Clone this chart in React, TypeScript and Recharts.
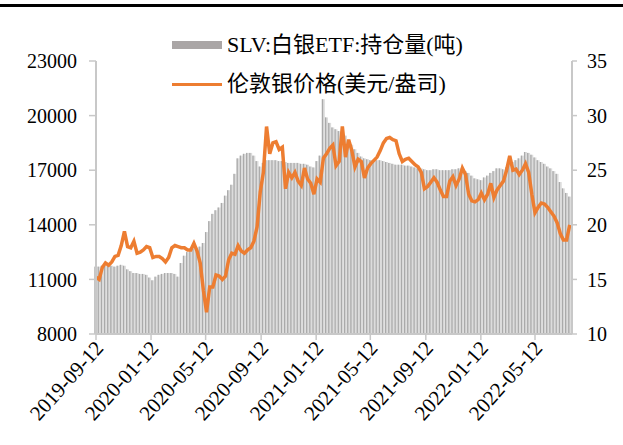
import React from 'react';
import { ComposedChart, Bar, Line, XAxis, YAxis, Legend } from 'recharts';

const FONT = "'Liberation Serif', 'Times New Roman', 'Noto Sans CJK SC', serif";

const startDate = '2019-09-12';
const tickLabels = ['2019-09-12', '2020-01-12', '2020-05-12', '2020-09-12', '2021-01-12', '2021-05-12', '2021-09-12', '2022-01-12', '2022-05-12'];
const holdingTicks = [8000, 11000, 14000, 17000, 20000, 23000];
const priceTicks = [10, 15, 20, 25, 30, 35];
const holdingName = 'SLV:白银ETF:持仓量(吨)';
const priceName = '伦敦银价格(美元/盎司)';

// weekly readings
const price = [
  15.2, 15.0, 16.1, 16.5, 16.3, 16.6, 17.1, 17.2, 18.1, 19.4,
  18.0, 17.9, 18.5, 17.4, 17.5, 17.7, 18.0, 17.9, 17.0, 17.1,
  17.1, 16.9, 16.6, 17.0, 17.9, 18.1, 18.0, 17.9, 17.9, 17.7,
  17.7, 18.3, 17.6, 16.5, 14.0, 12.0, 14.3, 14.3, 15.4, 15.3,
  15.0, 15.3, 16.8, 17.4, 17.3, 18.1, 17.6, 17.4, 17.7, 17.9,
  18.5, 19.8, 23.0, 24.8, 29.0, 26.5, 27.5, 27.6, 26.9, 27.1,
  23.3, 24.8, 24.3, 24.8, 24.0, 23.6, 25.2, 24.2, 23.8, 22.8,
  24.2, 23.9, 26.1, 26.5, 27.0, 27.3, 25.4, 25.8, 29.0, 26.2,
  27.8, 26.8, 25.3, 26.0, 25.8, 24.3, 25.2, 25.6, 25.9, 26.2,
  26.8, 27.5, 27.9, 28.0, 27.8, 27.7, 26.5, 25.8, 26.0, 26.1,
  25.8, 25.5, 25.3, 24.8, 23.3, 23.5, 23.9, 24.3, 23.9, 23.2,
  22.6, 22.6, 24.0, 24.4, 23.6, 24.2, 25.2, 24.6, 22.8, 22.2,
  22.1, 22.3, 22.9, 22.3, 22.8, 23.8, 22.5, 23.2, 23.6, 24.0,
  25.0, 26.3, 25.0, 25.1, 24.6, 25.0, 25.6, 24.8, 22.8, 21.1,
  21.6, 22.0, 21.9, 21.6, 21.2, 20.8, 20.2, 19.2, 18.6, 18.6,
  20.0,
];

const holdings = [
  11700, 11700, 11750, 11750, 11750, 11750, 11700, 11750, 11800, 11750,
  11550, 11450, 11350, 11350, 11300, 11300, 11250, 11100, 10950, 11150,
  11250, 11300, 11350, 11350, 11350, 11300, 11150, 11900, 12300, 12500,
  12650, 12700, 12750, 12800, 13000, 13600, 14200, 14600, 14800, 14950,
  15200, 15600, 15900, 16200, 16800, 17650, 17800, 17900, 17950, 17950,
  17800, 17500, 17200, 17400, 17550, 17550, 17550, 17550, 17500, 17500,
  17450, 17400, 17400, 17400, 17400, 17350, 17350, 17300, 17200, 17150,
  17500, 17800, 20900, 19900, 19600, 19350, 19250, 19150, 19050, 18900,
  18650, 18400, 18150, 17950, 17750, 17650, 17600, 17550, 17550, 17550,
  17550, 17500, 17450, 17400, 17350, 17300, 17300, 17300, 17250, 17250,
  17200, 17150, 17100, 17100, 17050, 17000, 17000, 17050, 17050, 17000,
  17000, 17000, 17000, 17050, 17050, 17100, 17100, 16950, 16850, 16700,
  16550, 16500, 16450, 16600, 16700, 16850, 16950, 17100, 17100, 17050,
  17150, 17350, 17450, 17550, 17650, 17800, 18000, 17950, 17850, 17700,
  17550, 17450, 17350, 17200, 17100, 16950, 16800, 16350, 16000, 15750,
  15550,
];

const DAY = 86400000;
const parse = (s: string) => {
  const [y, m, d] = s.split('-').map(Number);
  return Date.UTC(y, m - 1, d);
};
const t0 = parse(startDate);
const toDay = (s: string) => Math.round((parse(s) - t0) / DAY);
const tickDays = tickLabels.map(toDay);
const labelOf = (d: number) => {
  const i = tickDays.indexOf(d);
  return i >= 0 ? tickLabels[i] : '';
};

const data = price.map((p, i) => ({ day: i * 7, price: p, holdings: holdings[i] }));

const BarShape = (props: any) => {
  const { x, y, width, height } = props;
  if (!height || height <= 0) return null;
  return (
    <g>
      <rect x={x} y={y} width={width} height={height} fill="#dcdcdc" />
      <rect x={x} y={y} width={Math.min(1.3, width)} height={height} fill="#aaaaaa" />
    </g>
  );
};

const XTick = (props: any) => {
  const { x, y, payload } = props;
  const ax = x + 3;
  const ay = y + 2;
  return (
    <text
      x={ax}
      y={ay}
      dy="0.35em"
      transform={`rotate(-48 ${ax} ${ay})`}
      textAnchor="end"
      fontSize={21}
      fontFamily={FONT}
      fill="#000"
    >
      {labelOf(payload.value)}
    </text>
  );
};

const LegendContent = () => (
  <div style={{ fontFamily: FONT, fontSize: 22, color: '#000', lineHeight: '22px' }}>
    <div style={{ display: 'flex', alignItems: 'center', height: 24 }}>
      <div style={{ width: 50, height: 8, background: '#aaa6a6', marginRight: 5 }} />
      <span style={{ whiteSpace: 'nowrap' }}>{holdingName}</span>
    </div>
    <div style={{ display: 'flex', alignItems: 'center', height: 24, marginTop: 15 }}>
      <div style={{ width: 50, height: 3, background: '#ED7D31', marginRight: 5 }} />
      <span style={{ whiteSpace: 'nowrap' }}>{priceName}</span>
    </div>
  </div>
);

export default function App() {
  return (
    <div style={{ position: 'absolute', left: 0, top: 0, width: 623, height: 445, background: '#fff' }}>
      <div style={{ position: 'absolute', left: 0, top: 4, width: 623, height: 3, background: '#000' }} />
      <ComposedChart
        width={623}
        height={445}
        data={data}
        margin={{ top: 61, right: 0, bottom: 11, left: 0 }}
      >
        <XAxis
          dataKey="day"
          type="number"
          domain={[0, 1055]}
          ticks={tickDays}
          interval={0}
          tick={<XTick />}
          tickSize={6}
          tickMargin={2}
          height={100}
          axisLine={{ stroke: '#c8c8c8', strokeWidth: 2 }}
          tickLine={{ stroke: '#c8c8c8', strokeWidth: 1.5 }}
        />
        <YAxis
          yAxisId="left"
          orientation="left"
          domain={[8000, 23000]}
          ticks={holdingTicks}
          interval={0}
          width={96}
          tickSize={7}
          tickMargin={12}
          axisLine={{ stroke: '#c8c8c8', strokeWidth: 2 }}
          tickLine={{ stroke: '#c8c8c8', strokeWidth: 1.5 }}
          tick={{ fontSize: 20, fontFamily: FONT, fill: '#000' }}
        />
        <YAxis
          yAxisId="right"
          orientation="right"
          domain={[10, 35]}
          ticks={priceTicks}
          interval={0}
          width={51}
          tickSize={5}
          tickMargin={10}
          axisLine={{ stroke: '#c8c8c8', strokeWidth: 2 }}
          tickLine={{ stroke: '#c8c8c8', strokeWidth: 1.5 }}
          tick={{ fontSize: 20, fontFamily: FONT, fill: '#000' }}
        />
        <Legend
          layout="vertical"
          align="center"
          verticalAlign="middle"
          content={<LegendContent />}
          wrapperStyle={{ position: 'absolute', left: 172, top: 33, width: 330 }}
        />
        <Bar
          yAxisId="left"
          dataKey="holdings"
          name={holdingName}
          barSize={3}
          shape={<BarShape />}
          isAnimationActive={false}
        />
        <Line
          yAxisId="right"
          dataKey="price"
          name={priceName}
          type="linear"
          stroke="#ED7D31"
          strokeWidth={3.5}
          dot={false}
          isAnimationActive={false}
        />
      </ComposedChart>
    </div>
  );
}
